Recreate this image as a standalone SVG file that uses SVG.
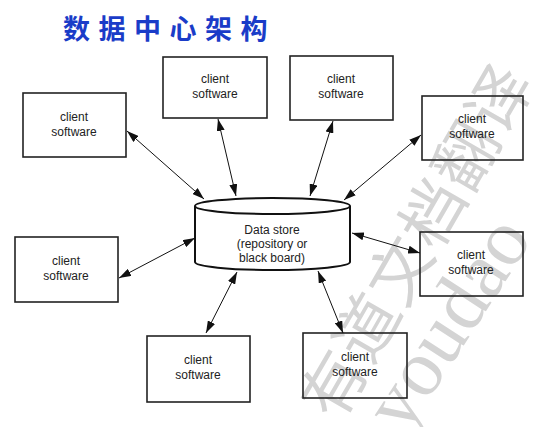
<svg xmlns="http://www.w3.org/2000/svg" width="534" height="427" viewBox="0 0 534 427">
<defs>
<marker id="ah" viewBox="0 0 12 8" refX="12" refY="4" markerWidth="12" markerHeight="8" markerUnits="userSpaceOnUse" orient="auto-start-reverse">
<path d="M0,0 L12,4 L0,8 Z" fill="#111"/>
</marker>
</defs>
<style>
.box{fill:none;stroke:#222;stroke-width:1.6}
.lbl{font-family:"Liberation Sans",Arial,sans-serif;font-size:12px;fill:#222;text-anchor:middle}
.con{stroke:#111;stroke-width:1;fill:none;marker-start:url(#ah);marker-end:url(#ah)}
.wm{fill:#d4d4d4}
</style>
<rect width="534" height="427" fill="#fff"/>
<g id="watermark">
<text class="wm" x="0" y="0" font-family="'Noto Sans CJK SC',sans-serif" font-size="64" letter-spacing="2" transform="translate(338,424) rotate(-60)">有道文档翻译</text>
<text class="wm" x="0" y="0" font-family="'Liberation Serif',serif" font-size="80" transform="translate(405,436) rotate(-57)">youdao</text>
</g>
<text x="63" y="39" font-family="'Noto Sans CJK SC',sans-serif" font-size="27" font-weight="bold" letter-spacing="8.5" fill="#1a3cc8">数据中心架构</text>
<g id="datastore">
<path d="M195,206 L195,262 A77.5,8 0 0 0 350,262 L350,206" fill="none" stroke="#111" stroke-width="2"/>
<ellipse cx="272.5" cy="206" rx="77.5" ry="8" fill="none" stroke="#111" stroke-width="2"/>
<text class="lbl" x="272" y="234">Data store</text>
<text class="lbl" x="272" y="248">(repository or</text>
<text class="lbl" x="272" y="262">black board)</text>
</g>
<g id="c1"><rect class="box" x="23" y="93" width="103" height="64"/><text class="lbl" x="74" y="121">client</text><text class="lbl" x="74" y="136">software</text></g>
<g id="c2"><rect class="box" x="163" y="57" width="104" height="61"/><text class="lbl" x="215" y="83">client</text><text class="lbl" x="215" y="98">software</text></g>
<g id="c3"><rect class="box" x="290" y="56" width="103" height="64"/><text class="lbl" x="341" y="83">client</text><text class="lbl" x="341" y="98">software</text></g>
<g id="c4"><rect class="box" x="422" y="96" width="101" height="64"/><text class="lbl" x="472" y="123">client</text><text class="lbl" x="472" y="138">software</text></g>
<g id="c5"><rect class="box" x="420" y="232" width="103" height="64"/><text class="lbl" x="471" y="259">client</text><text class="lbl" x="471" y="274">software</text></g>
<g id="c6"><rect class="box" x="303" y="333" width="104" height="65"/><text class="lbl" x="355" y="361">client</text><text class="lbl" x="355" y="376">software</text></g>
<g id="c7"><rect class="box" x="15" y="237" width="103" height="65"/><text class="lbl" x="66" y="265">client</text><text class="lbl" x="66" y="280">software</text></g>
<g id="c8"><rect class="box" x="147" y="336" width="103" height="66"/><text class="lbl" x="198" y="364">client</text><text class="lbl" x="198" y="379">software</text></g>
<g id="connectors">
<line class="con" x1="127" y1="131" x2="204" y2="199"/>
<line class="con" x1="218" y1="119" x2="236" y2="196"/>
<line class="con" x1="333" y1="121" x2="310" y2="196"/>
<line class="con" x1="421" y1="135" x2="344" y2="200"/>
<line class="con" x1="352" y1="233" x2="420" y2="253"/>
<line class="con" x1="318" y1="271" x2="343" y2="333"/>
<line class="con" x1="237" y1="272" x2="206" y2="333"/>
<line class="con" x1="119" y1="278" x2="195" y2="238"/>
</g>
</svg>
